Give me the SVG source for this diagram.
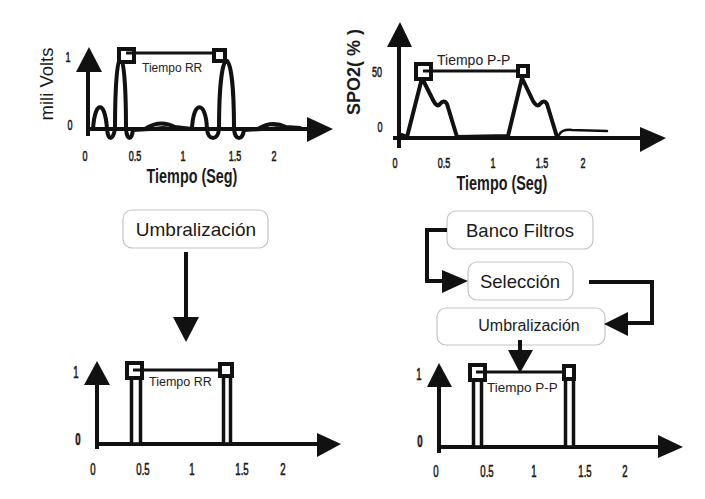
<svg xmlns="http://www.w3.org/2000/svg" width="705" height="499" viewBox="0 0 705 499">
<style>
.ax{stroke:#111;stroke-width:4;fill:none}
.hd{fill:#111;stroke:none}
.wv{stroke:#111;stroke-width:4;fill:none;stroke-linejoin:round;stroke-linecap:round}
.sq{stroke:#111;stroke-width:4;fill:#fff}
.pl{stroke:#111;stroke-width:3.5;fill:#fff}
.ln{stroke:#111;stroke-width:3;fill:none}
.box{fill:#fff;stroke:#c4c4c4;stroke-width:1.2}
.bt{font-family:"Liberation Sans",Arial,sans-serif;fill:#1a1a1a;text-anchor:middle}
.tk{font-family:"Liberation Sans",Arial,sans-serif;font-size:15px;fill:#1a1a1a;stroke:#1a1a1a;stroke-width:0.6;text-anchor:middle}
.tkb{font-family:"Liberation Sans",Arial,sans-serif;font-size:16px;fill:#1a1a1a;stroke:#1a1a1a;stroke-width:0.6;text-anchor:middle}
.xl{font-family:"Liberation Sans",Arial,sans-serif;font-size:20px;font-weight:bold;fill:#1a1a1a;text-anchor:middle}
.sm{font-family:"Liberation Sans",Arial,sans-serif;fill:#222}
.cn{stroke:#111;stroke-width:4;fill:none}
</style>

<!-- Top-left ECG plot -->
<g id="plot-ecg">
  <line class="ax" x1="88" y1="70" x2="88" y2="136"/>
  <polygon class="hd" points="76,72 102,72 89,47"/>
  <line class="ax" x1="86" y1="129" x2="309" y2="129"/>
  <polygon class="hd" points="307,117 307,142 333,129"/>
  <path class="wv" d="M93 129 C95 100,105 100,107 129 C108 141,113 141,115 129 C115 34,126 34,126 129 C127 141,132 141,133 129 L145 129 Q160 119 175 127 L192 129 C193 100,206 100,207 129 C208 141,218 141,219 129 C219 38,234 38,234 129 C235 141,243 141,244 129 L258 129 Q272 120 286 127 L300 128"/>
  <path class="wv" style="stroke-width:2" d="M133 131 L150 130 Q162 124 178 130 L192 130 M244 131 L262 130 Q274 125 290 129"/>
  <line class="ln" x1="127" y1="53" x2="213" y2="53"/>
  <rect class="sq" x="119" y="49" width="15" height="13"/>
  <line class="ln" x1="126" y1="53" x2="134" y2="53"/>
  <rect class="sq" x="214" y="50" width="11" height="11"/>
  <text class="sm" x="142" y="72" font-size="12">Tiempo RR</text>
  <text class="bt" font-size="18.5" transform="translate(53,84) rotate(-90)">mili Volts</text>
  <text class="tk" transform="translate(68,62) scale(0.6,1)">1</text>
  <text class="tk" transform="translate(70,130) scale(0.6,1)">0</text>
  <text class="tk" transform="translate(85,161) scale(0.6,1)">0</text>
  <text class="tk" transform="translate(135,161) scale(0.6,1)">0.5</text>
  <text class="tk" transform="translate(183,161) scale(0.6,1)">1</text>
  <text class="tk" transform="translate(235,161) scale(0.6,1)">1.5</text>
  <text class="tk" transform="translate(274,161) scale(0.6,1)">2</text>
  <text class="xl" transform="translate(192,183) scale(0.72,1)">Tiempo (Seg)</text>
</g>

<!-- Top-right SPO2 plot -->
<g id="plot-spo2">
  <line class="ax" x1="399" y1="46" x2="399" y2="148"/>
  <polygon class="hd" points="387,47 412,47 400,22"/>
  <line class="ax" x1="393" y1="138" x2="642" y2="138"/>
  <polygon class="hd" points="640,127 640,152 666,138"/>
  <path class="wv" d="M402 135 L407 137 L422 78 L433 100 Q437 108 440 104 Q444 99 447 104 L457 137 L508 136 L522 78 L533 101 Q537 108 540 104 Q544 99 547 104 L557 137"/>
  <path class="wv" style="stroke-width:2.5" d="M559 135 Q562 129 572 130 L607 131"/>
  <line class="ln" x1="424" y1="71" x2="518" y2="71"/>
  <rect class="sq" x="416" y="64" width="15" height="15"/>
  <line class="ln" x1="423" y1="71" x2="431" y2="71"/>
  <rect class="sq" x="518" y="66" width="10" height="10"/>
  <text class="sm" x="437" y="65" font-size="14">Tiempo P-P</text>
  <text class="bt" font-size="18" font-weight="bold" transform="translate(360,72) rotate(-90)">SPO2( % )</text>
  <text class="tk" transform="translate(377,77) scale(0.6,1)">50</text>
  <text class="tk" transform="translate(380,132) scale(0.6,1)">0</text>
  <text class="tk" transform="translate(395,168) scale(0.6,1)">0</text>
  <text class="tk" transform="translate(444,168) scale(0.6,1)">0.5</text>
  <text class="tk" transform="translate(493,168) scale(0.6,1)">1</text>
  <text class="tk" transform="translate(542,168) scale(0.6,1)">1.5</text>
  <text class="tk" transform="translate(583,168) scale(0.6,1)">2</text>
  <text class="xl" transform="translate(502,190) scale(0.72,1)">Tiempo (Seg)</text>
</g>

<!-- Flow boxes -->
<g id="umbral-left">
  <rect class="box" x="123" y="210" width="145" height="38" rx="9"/>
  <text class="bt" x="196" y="236" font-size="19">Umbralización</text>
</g>
<g id="banco">
  <rect class="box" x="447" y="211" width="146" height="38" rx="9"/>
  <text class="bt" x="520" y="237" font-size="18.5">Banco Filtros</text>
</g>
<g id="seleccion">
  <rect class="box" x="468" y="262" width="105" height="38" rx="9"/>
  <text class="bt" x="520" y="288" font-size="18.5">Selección</text>
</g>
<g id="umbral-right">
  <rect class="box" x="437" y="308" width="168" height="37" rx="9"/>
  <text class="bt" x="529" y="331" font-size="16">Umbralización</text>
</g>

<!-- Connectors -->
<g id="connectors">
  <line class="cn" x1="186" y1="252" x2="186" y2="318"/>
  <polygon class="hd" points="173,317 199,317 186,342"/>
  <polyline class="cn" points="447,230 427,230 427,281 443,281"/>
  <polygon class="hd" points="442,270 442,293 468,281"/>
  <polyline class="cn" points="589,282 652,282 652,323 628,323"/>
  <polygon class="hd" points="628,312 628,336 604,324"/>
  <line class="cn" x1="520" y1="340" x2="520" y2="351"/>
  <polygon class="hd" points="508,350 533,350 520,373"/>
</g>

<!-- Bottom-left RR pulses -->
<g id="plot-rr">
  <line class="ax" x1="97" y1="384" x2="97" y2="449"/>
  <polygon class="hd" points="84,385 110,385 97,361"/>
  <line class="ax" x1="95" y1="444" x2="318" y2="444"/>
  <polygon class="hd" points="317,433 317,457 341,444"/>
  <rect class="pl" x="131.5" y="378" width="9" height="66"/>
  <rect class="pl" x="223.5" y="376" width="7" height="68"/>
  <line class="ln" x1="134" y1="370" x2="220" y2="370"/>
  <rect class="sq" x="127" y="363" width="15" height="15"/>
  <line class="ln" x1="133" y1="370" x2="142" y2="370"/>
  <rect class="sq" x="220" y="364" width="12" height="12"/>
  <text class="sm" x="149" y="386" font-size="12.5">Tiempo RR</text>
  <text class="tkb" transform="translate(76,378) scale(0.6,1)">1</text>
  <text class="tkb" font-weight="bold" transform="translate(78,445) scale(0.6,1)">0</text>
  <text class="tkb" transform="translate(93,475) scale(0.6,1)">0</text>
  <text class="tkb" transform="translate(143,475) scale(0.6,1)">0.5</text>
  <text class="tkb" transform="translate(192,475) scale(0.6,1)">1</text>
  <text class="tkb" transform="translate(242,475) scale(0.6,1)">1.5</text>
  <text class="tkb" transform="translate(283,475) scale(0.6,1)">2</text>
</g>

<!-- Bottom-right P-P pulses -->
<g id="plot-pp">
  <line class="ax" x1="439" y1="386" x2="439" y2="453"/>
  <polygon class="hd" points="427,387 452,387 439,363"/>
  <line class="ax" x1="437" y1="447" x2="660" y2="447"/>
  <polygon class="hd" points="658,435 658,458 683,447"/>
  <rect class="pl" x="473.5" y="380" width="8" height="67"/>
  <rect class="pl" x="565.5" y="379" width="8" height="68"/>
  <line class="ln" x1="477" y1="372" x2="564" y2="372"/>
  <rect class="sq" x="470" y="365" width="15" height="15"/>
  <line class="ln" x1="476" y1="372" x2="485" y2="372"/>
  <rect class="sq" x="564" y="366" width="10" height="13"/>
  <text class="sm" x="487" y="392" font-size="13.5">Tiempo P-P</text>
  <text class="tkb" transform="translate(419,380) scale(0.6,1)">1</text>
  <text class="tkb" font-weight="bold" transform="translate(420,447) scale(0.6,1)">0</text>
  <text class="tkb" transform="translate(436,477) scale(0.6,1)">0</text>
  <text class="tkb" transform="translate(487,477) scale(0.6,1)">0.5</text>
  <text class="tkb" transform="translate(534,477) scale(0.6,1)">1</text>
  <text class="tkb" transform="translate(585,477) scale(0.6,1)">1.5</text>
  <text class="tkb" transform="translate(625,477) scale(0.6,1)">2</text>
</g>
</svg>
